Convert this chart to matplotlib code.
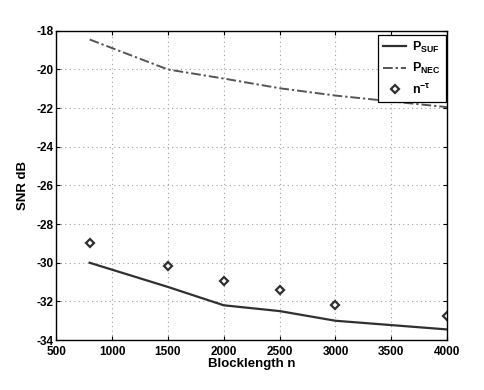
import matplotlib
matplotlib.use('Agg')
from matplotlib import pyplot as plt

# data
n_vals = [800, 1500, 2000, 2500, 3000, 4000]
p_suf = [-30.0, -31.25, -32.2, -32.5, -33.0, -33.45]
p_nec = [-18.45, -20.0, -20.47, -20.97, -21.35, -21.95]
n_tau = [-29.0, -30.17, -30.95, -31.42, -32.2, -32.75]

xticks = [500, 1000, 1500, 2000, 2500, 3000, 3500, 4000]
yticks = [-34, -32, -30, -28, -26, -24, -22, -20, -18]

plt.rcParams['font.family'] = ['Liberation Sans', 'DejaVu Sans']
plt.rcParams['font.weight'] = 'bold'
plt.rcParams['axes.unicode_minus'] = False
plt.rcParams['mathtext.fontset'] = 'custom'
plt.rcParams['mathtext.rm'] = 'Liberation Sans:bold'
plt.rcParams['mathtext.bf'] = 'Liberation Sans:bold'
plt.rcParams['mathtext.it'] = 'Liberation Sans:bold'
plt.rcParams['mathtext.default'] = 'bf'

fig = plt.figure(figsize=(4.84, 3.90), dpi=100)
ax = fig.add_axes([0.116, 0.128, 0.808, 0.793])

ax.plot(n_vals, p_suf, color='#303030', lw=1.6, label=r'P$_{SUF}$')
ax.plot(n_vals, p_nec, color='#555555', lw=1.4, linestyle='-.',
        dashes=(5, 1.5, 1.2, 1.5), label=r'P$_{NEC}$')
ax.plot(n_vals, n_tau, linestyle='none', marker='D', markersize=4.3,
        markerfacecolor='white', markeredgecolor='#303030', markeredgewidth=1.6,
        label=r'n$^{-\tau}$')

ax.set_xlim(500, 4000)
ax.set_ylim(-34, -18)
ax.set_xticks(xticks)
ax.set_yticks(yticks)
ax.tick_params(direction='in', top=True, right=True, labelsize=8.5, length=3)
ax.tick_params(axis='x', pad=4)
ax.tick_params(axis='y', pad=2)
ax.grid(True, linestyle=(0, (1, 3)), color='#a0a0a0', lw=0.8)
for s in ax.spines.values():
    s.set_linewidth(1.0)

ax.set_xlabel('Blocklength n', fontsize=9.5, fontweight='bold', labelpad=0)
ax.set_ylabel('SNR dB', fontsize=9.5, fontweight='bold', labelpad=5)

leg = ax.legend(loc='upper right', fontsize=9, fancybox=False, framealpha=1,
                edgecolor='black', borderpad=0.4, labelspacing=0.5,
                handlelength=1.8, handletextpad=0.5, borderaxespad=0.2,
                bbox_to_anchor=(1.003, 0.995))
leg.get_frame().set_linewidth(0.9)

fig.savefig('out.png', dpi=100)
